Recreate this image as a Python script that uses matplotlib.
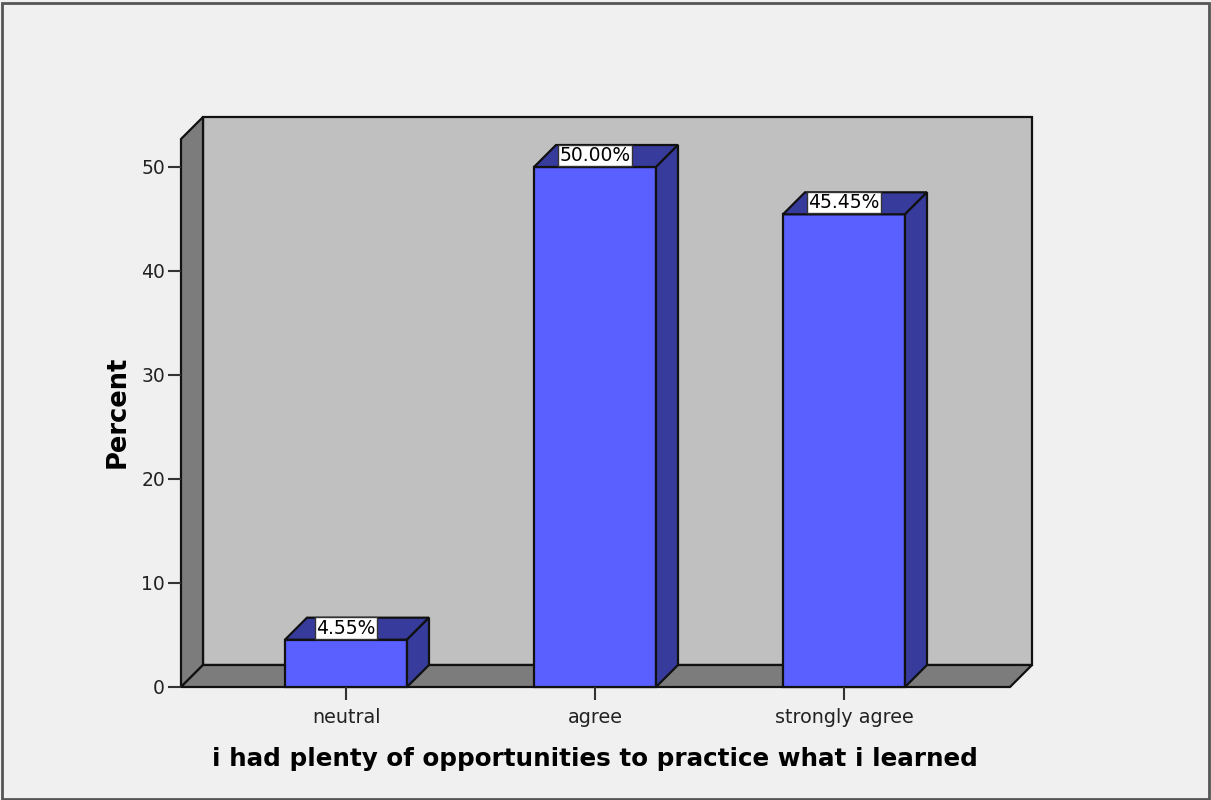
import matplotlib.pyplot as plt
from matplotlib.patches import Polygon, Rectangle
import numpy as np

# data
categories = ['neutral', 'agree', 'strongly agree']
percent = [4.55, 50.00, 45.45]
yticks = [0, 10, 20, 30, 40, 50]
xlabel = 'i had plenty of opportunities to practice what i learned'
ylabel = 'Percent'

# colours
bg = '#f0f0f0'
wall_back = '#c0c0c0'
wall_side = '#7c7c7c'
bar_front = '#5a5fff'
bar_dark = '#373b9c'

W, H = 1211, 800
fig = plt.figure(figsize=(W / 100, H / 100), dpi=100, facecolor=bg)
# frame around the whole picture
fig.patches.append(Rectangle((0.002, 0.001), 0.996, 0.995, transform=fig.transFigure,
                             fill=False, edgecolor='#555555', lw=2))

# axes spans the 3d box (front-left corner to back-right corner), pixel geometry
px_l, px_r, px_t, px_b = 181, 1032, 117, 687
ax = fig.add_axes([px_l / W, 1 - px_b / H, (px_r - px_l) / W, (px_b - px_t) / H])
ax.set_facecolor('none')

step = 249.0   # px per category
unit = 10.4    # px per percent
depth = 22.0   # px offset of the depth
x0 = -(346 - px_l) / step
x1 = x0 + (px_r - px_l) / step
ytop = (px_b - px_t) / unit
ax.set_xlim(x0, x1)
ax.set_ylim(0, ytop)
dx = depth / step
dy = depth / unit
xf = x1 - dx          # right end of the front floor edge
yf = ytop - dy        # top of the front left wall edge

def face(pts, color):
    ax.add_patch(Polygon(pts, closed=True, facecolor=color, edgecolor='#111111',
                         lw=1.6, joinstyle='miter', clip_on=False))

# walls and floor
face([(x0 + dx, dy), (x1, dy), (x1, ytop), (x0 + dx, ytop)], wall_back)
face([(x0, 0), (x0 + dx, dy), (x0 + dx, ytop), (x0, yf)], wall_side)
face([(x0, 0), (xf, 0), (x1, dy), (x0 + dx, dy)], wall_side)

# bars
bw = 122 / step
xs = np.arange(len(categories))
for x, v in zip(xs, percent):
    l, r = x - bw / 2, x + bw / 2
    face([(l, 0), (r, 0), (r, v), (l, v)], bar_front)
    face([(l, v), (r, v), (r + dx, v + dy), (l + dx, v + dy)], bar_dark)
    face([(r, 0), (r + dx, dy), (r + dx, v + dy), (r, v)], bar_dark)
    ax.annotate('%.2f%%' % v, (x, v), xytext=(0, 1.5), textcoords='offset points',
                ha='center', va='bottom', fontsize=13.5, color='black',
                bbox=dict(boxstyle='square,pad=0.06', facecolor='white',
                          edgecolor='#333333', lw=1))

for s in ax.spines.values():
    s.set_visible(False)

ax.set_yticks(yticks)
ax.set_xticks(xs)
ax.set_xticklabels(categories)
ax.tick_params(axis='y', length=9.5, width=1.5, color='#333333', pad=2,
               labelsize=13.5, labelcolor='#222222')
ax.tick_params(axis='x', length=9, width=1.5, color='#333333', pad=6,
               labelsize=13.8, labelcolor='#222222')

ax.set_xlabel(xlabel, fontsize=17.7, fontweight='bold')
ax.xaxis.set_label_coords((595 - px_l) / (px_r - px_l), (px_b - 747) / (px_b - px_t))
ax.xaxis.label.set_va('top')
ax.set_ylabel(ylabel, fontsize=18.5, fontweight='bold')
ax.yaxis.set_label_coords((131 - px_l) / (px_r - px_l), (px_b - 412) / (px_b - px_t))

fig.savefig('out.png', dpi=100, facecolor=bg)
